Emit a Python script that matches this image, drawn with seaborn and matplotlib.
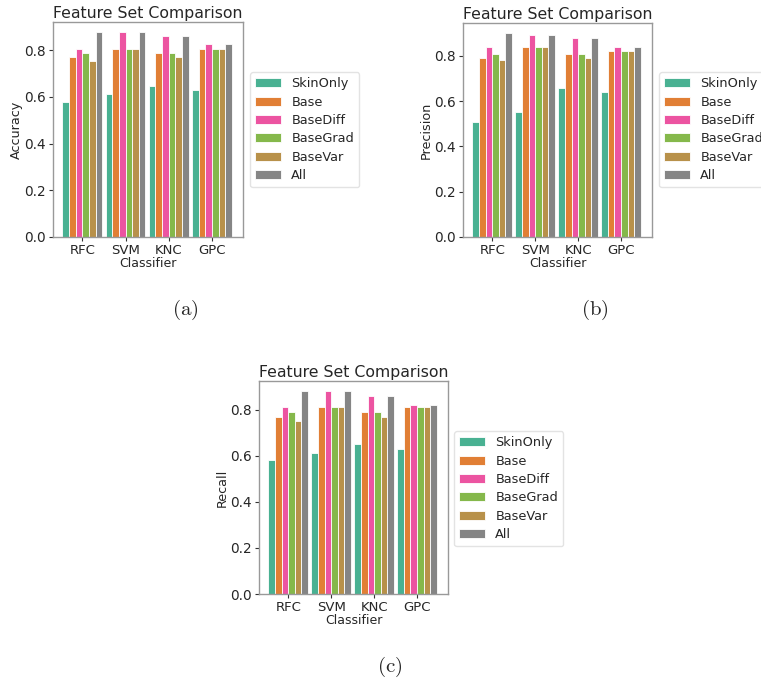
import matplotlib
matplotlib.use("Agg")
import matplotlib.pyplot as plt
import seaborn as sns
import pandas as pd
import numpy as np

classifiers = ["RFC", "SVM", "KNC", "GPC"]
feature_sets = ["SkinOnly", "Base", "BaseDiff", "BaseGrad", "BaseVar", "All"]

accuracy = {
    "SkinOnly": [0.578, 0.613, 0.648, 0.631],
    "Base":     [0.771, 0.806, 0.789, 0.806],
    "BaseDiff": [0.806, 0.876, 0.859, 0.824],
    "BaseGrad": [0.789, 0.806, 0.789, 0.806],
    "BaseVar":  [0.754, 0.806, 0.771, 0.806],
    "All":      [0.876, 0.876, 0.859, 0.824],
}
precision = {
    "SkinOnly": [0.51, 0.55, 0.66, 0.64],
    "Base":     [0.79, 0.84, 0.81, 0.82],
    "BaseDiff": [0.84, 0.89, 0.88, 0.84],
    "BaseGrad": [0.81, 0.84, 0.81, 0.82],
    "BaseVar":  [0.78, 0.84, 0.79, 0.82],
    "All":      [0.90, 0.89, 0.88, 0.84],
}
recall = {
    "SkinOnly": [0.58, 0.61, 0.65, 0.63],
    "Base":     [0.77, 0.81, 0.79, 0.81],
    "BaseDiff": [0.81, 0.88, 0.86, 0.82],
    "BaseGrad": [0.79, 0.81, 0.79, 0.81],
    "BaseVar":  [0.75, 0.81, 0.77, 0.81],
    "All":      [0.88, 0.88, 0.86, 0.82],
}

dark2 = sns.color_palette("Dark2", 8)
# Dark2 drawn at alpha 0.8 over white
palette = [tuple(0.8 * np.array(dark2[i]) + 0.2) for i in (0, 1, 3, 4, 6, 7)]

sns.set_style("white")
plt.rcParams["font.family"] = ["DejaVu Sans"]
plt.rcParams["mathtext.fontset"] = "cm"

W, H = 761, 682
fig = plt.figure(figsize=(W / 100, H / 100), dpi=100)


def to_df(d):
    rows = []
    for fs in feature_sets:
        for c, v in zip(classifiers, d[fs]):
            rows.append({"Classifier": c, "Feature": fs, "Value": v})
    return pd.DataFrame(rows)


def make_panel(rect_px, data, ylabel, legend_xy, label, label_xy):
    l, t, r, b = rect_px
    ax = fig.add_axes([l / W, 1 - b / H, (r - l) / W, (b - t) / H])
    df = to_df(data)
    sns.barplot(data=df, x="Classifier", y="Value", hue="Feature",
                hue_order=feature_sets, order=classifiers, palette=palette,
                saturation=1, width=0.92, edgecolor="white", linewidth=0.6,
                ax=ax)
    ax.set_xlim(-0.68, 3.72)
    ax.set_title("Feature Set Comparison", fontsize=11.3, pad=3)
    ax.set_xlabel("Classifier", fontsize=9, labelpad=0)
    ax.set_ylabel(ylabel, fontsize=9.2, labelpad=1)
    ax.set_yticks([0.0, 0.2, 0.4, 0.6, 0.8])
    ax.set_yticklabels(["0.0", "0.2", "0.4", "0.6", "0.8"])
    ax.tick_params(axis="y", labelsize=9.8)
    ax.tick_params(axis="x", labelsize=9.5)
    ax.tick_params(axis="both", length=3, width=0.8,
                   color="#333333", left=True, bottom=True, pad=2)
    for s in ax.spines.values():
        s.set_color("#999999")
        s.set_linewidth(1.0)
    ax.legend(loc="upper left",
              bbox_to_anchor=((legend_xy[0] - l) / (r - l), (b - legend_xy[1]) / (b - t)),
              fontsize=9.3, frameon=True, handlelength=2.0, borderaxespad=0,
              labelspacing=0.42, handletextpad=0.8, edgecolor="#dddddd")
    fig.text(label_xy[0] / W, 1 - label_xy[1] / H, r"$\mathrm{" + label + "}$",
             fontsize=15, ha="center", va="center")
    return ax


make_panel((53, 22, 243, 237), accuracy, "Accuracy", (250, 72), "(a)", (185, 310))
make_panel((463, 23, 652, 237), precision, "Precision", (659, 72), "(b)", (595, 310))
make_panel((259, 381, 448, 594), recall, "Recall", (454, 431), "(c)", (390, 667))

fig.savefig("out.png", dpi=100, facecolor="white")
